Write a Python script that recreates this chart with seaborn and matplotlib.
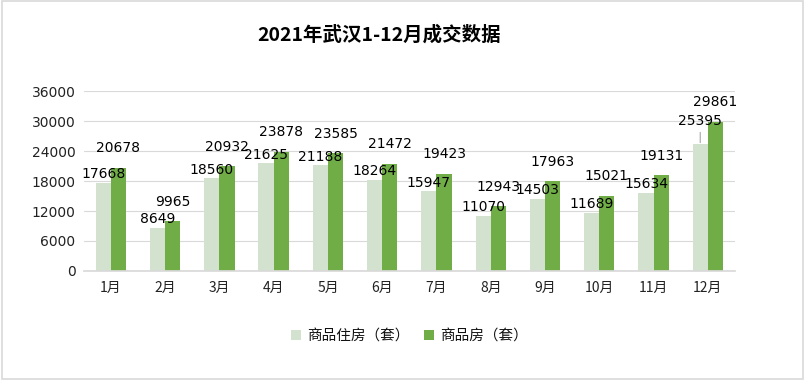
import numpy as np
import pandas as pd
import seaborn as sns
import matplotlib.pyplot as plt
from matplotlib.patches import Rectangle

months = ["1月", "2月", "3月", "4月", "5月", "6月", "7月", "8月", "9月", "10月", "11月", "12月"]
zhufang = [17668, 8649, 18560, 21625, 21188, 18264, 15947, 11070, 14503, 11689, 15634, 25395]
shangpin = [20678, 9965, 20932, 23878, 23585, 21472, 19423, 12943, 17963, 15021, 19131, 29861]
series = ["商品住房（套）", "商品房（套）"]
yticks = [0, 6000, 12000, 18000, 24000, 30000, 36000]

df = pd.DataFrame({
    "月份": months * 2,
    "套数": zhufang + shangpin,
    "类型": [series[0]] * len(months) + [series[1]] * len(months),
})

sns.set_theme(style="white")
plt.rcParams["font.family"] = ["Noto Sans CJK SC", "DejaVu Sans"]
plt.rcParams["text.color"] = "#111111"
plt.rcParams["xtick.color"] = "#222222"
plt.rcParams["ytick.color"] = "#222222"

fig = plt.figure(figsize=(8.05, 3.8), dpi=100)
ax = fig.add_axes([0.104, 0.287, 0.809, 0.473])

colors = ["#D3E2CF", "#70AD47"]
sns.barplot(data=df, x="月份", y="套数", hue="类型", palette=colors,
            width=0.56, saturation=1, linewidth=0, ax=ax)

ax.set_ylim(0, 36000)
ax.set_yticks(yticks)
ax.set_yticklabels([str(t) for t in yticks], fontsize=10, family="DejaVu Sans")
ax.tick_params(axis="x", labelsize=10, length=0, pad=7)
ax.tick_params(axis="y", length=0, pad=6)
ax.yaxis.grid(True, color="#d9d9d9", linewidth=0.8)
ax.set_axisbelow(True)
for s in ["top", "right", "left"]:
    ax.spines[s].set_visible(False)
ax.spines["bottom"].set_color("#d9d9d9")
ax.set_xlabel("")
ax.set_ylabel("")
ax.set_xlim(-0.5, len(months) - 0.5)

# data labels
light, dark = ax.containers[0], ax.containers[1]
lbl_light = [str(v) for v in zhufang]
lbl_light[-1] = ""
ax.bar_label(light, labels=lbl_light, padding=1, fontsize=10, family="DejaVu Sans", color="#000000")
ax.bar_label(dark, labels=[str(v) for v in shangpin], padding=9, fontsize=10, family="DejaVu Sans", color="#000000")

# 12月 label moved up with leader line
b = light[-1]
bx = b.get_x() + b.get_width() / 2
ax.annotate(str(zhufang[-1]), xy=(bx, zhufang[-1] + 300), xytext=(bx, zhufang[-1] + 3300),
            ha="center", va="bottom", fontsize=10, family="DejaVu Sans", color="#000000",
            arrowprops=dict(arrowstyle="-", color="#a6a6a6", lw=0.8, shrinkA=1, shrinkB=0))

fig.suptitle("2021年武汉1-12月成交数据", x=0.471, y=0.935, fontsize=14, fontweight="black",
             color="#000000")

leg = ax.legend(loc="upper center", bbox_to_anchor=(0.50, -0.25), ncol=2, frameon=False,
                fontsize=10.5, handlelength=0.7, handleheight=0.7, handletextpad=0.4,
                columnspacing=1.0)

fig.patches.append(Rectangle((0.002, 0.003), 0.996, 0.994, transform=fig.transFigure,
                             fill=False, edgecolor="#d9d9d9", linewidth=1.2))

fig.savefig("out.png", dpi=100)
